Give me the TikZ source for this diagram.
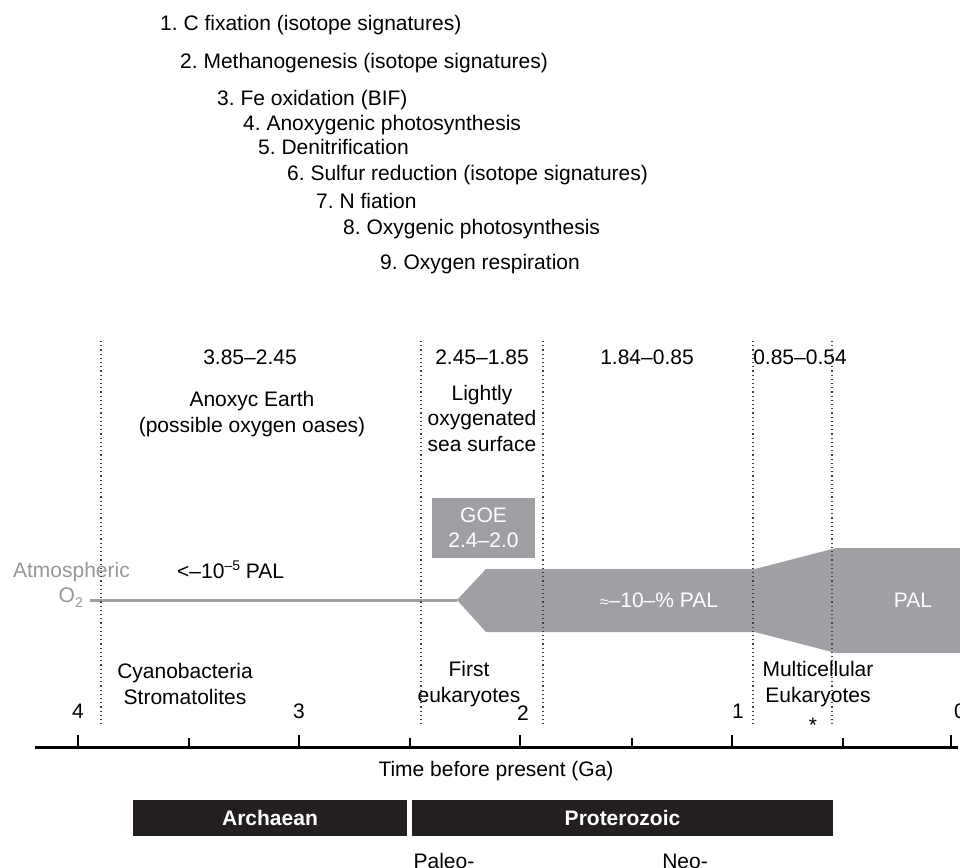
\documentclass[tikz,border=0pt]{standalone}
\usepackage{fontspec}
\setmainfont{Liberation Sans}
\usepackage{tikz}
\usetikzlibrary{positioning}
\definecolor{o2gray}{RGB}{159,160,163}
\definecolor{labelgray}{RGB}{150,150,152}
\definecolor{eonblack}{RGB}{35,31,32}
\newcommand{\bodyfont}{\fontsize{21}{25.5}\selectfont}
\newcommand{\smallup}[1]{\raisebox{0.75ex}{\fontsize{14}{14}\selectfont #1}}
\newcommand{\smalldown}[1]{\raisebox{-0.45ex}{\fontsize{14}{14}\selectfont #1}}
\frenchspacing
\tikzset{
 txt/.style={
 inner sep=0pt,
 align=center,
 font=\bodyfont
 },
 listitem/.style={txt, anchor=west},
 goebox/.style={
 rectangle,
 fill=o2gray,
 text=white,
 inner sep=0pt,
 minimum width=103pt,
 minimum height=60pt,
 align=center,
 font=\bodyfont
 },
 eonbar/.style={
 rectangle,
 fill=eonblack,
 text=white,
 inner sep=0pt,
 minimum height=36pt,
 font=\bodyfont\bfseries
 },
 boundary/.style={dash pattern=on 1.2pt off 3pt, line width=1.1pt, draw=black!75},
 o2line/.style={line width=3pt, draw=o2gray},
 axisline/.style={line width=3pt, draw=black}
}

\begin{document}
\begin{tikzpicture}[x=1pt, y=-1pt]
	\useasboundingbox (0,0) rectangle (960,867);

	% metabolisms
	\node[listitem] (m1) at (160,25) {1. C fixation (isotope signatures)};
	\node[listitem] (m2) at (180,63) {2. Methanogenesis (isotope signatures)};
	\node[listitem] (m3) at (217,100) {3. Fe oxidation (BIF)};
	\node[listitem] (m4) at (243,125) {4. Anoxygenic photosynthesis};
	\node[listitem] (m5) at (258,147) {5. Denitrification};
	\node[listitem] (m6) at (287,175) {6. Sulfur reduction (isotope signatures)};
	\node[listitem] (m7) at (316,201) {7. N fiation};
	\node[listitem] (m8) at (343,229) {8. Oxygenic photosynthesis};
	\node[listitem] (m9) at (380,264) {9. Oxygen respiration};

	% periods
	\node[txt] (p1) at (250,357) {3.85–2.45};
	\node[txt] (p2) at (482,357) {2.45–1.85};
	\node[txt] (p3) at (647,357) {1.84–0.85};
	\node[txt] (p4) at (800,357) {0.85–0.54};

	\node[txt] (anoxic) at (252,414) {Anoxyc Earth\\(possible oxygen oases)};
	\node[txt] (lightly) at (482,418) {Lightly\\oxygenated\\sea surface};

	\node[goebox] (goe) at (483.5,528) {GOE\\2.4–2.0};

	% atmospheric oxygen
	\node[txt, anchor=east, text=labelgray] (atmo) at (130,572) {Atmospheric};
	\node[txt, anchor=east, text=labelgray] (otwo) at (83,598) {O\smalldown{2}};
	\node[txt, anchor=west] (low) at (177,570) {<–10\smallup{–5} PAL};

	\coordinate (o2start) at (90,600);
	\coordinate (o2tip) at (457,600);
	\fill[o2gray] (o2tip) -- (486,569) -- (755,569) -- (836,548) -- (960,548)
		-- (960,653) -- (836,653) -- (755,632) -- (486,632) -- cycle;
	\draw[o2line] (o2start) -- (o2tip);

	\node[txt, text=white] (tenpct) at (659,600) {{\fontsize{16}{16}\selectfont ≈}–10–\% PAL};
	\node[txt, text=white] (pal) at (913,600) {PAL};

	% boundaries
	\foreach \x in {101,421,543,753,832}
		\draw[boundary] (\x,341) -- (\x,725);

	% life
	\node[txt] (cyano) at (185,684) {Cyanobacteria\\Stromatolites};
	\node[txt] (euk) at (469,684) {First\\eukaryotes};
	\node[txt] (multi) at (818,684) {Multicellular\\Eukaryotes};
	\node[txt] (star) at (813,725) {*};

	% time axis
	\coordinate (axisL) at (35,747);
	\coordinate (axisR) at (958,747);
	\draw[axisline] (axisL) -- (axisR);
	\foreach \x/\h in {78/13,189/10,299/13,410/10,520/13,632/10,732/13,843/10,951/13}
		\draw[axisline, line width=2.6pt] (\x,748) -- (\x,748-\h);
	\node[txt] (t4) at (78,711) {4};
	\node[txt] (t3) at (299,711) {3};
	\node[txt] (t2) at (523,713) {2};
	\node[txt] (t1) at (738,711) {1};
	\node[txt] (t0) at (960,711) {0};
	\node[txt] (xlabel) at (496,771) {Time before present (Ga)};

	% eons
	\node[eonbar, minimum width=274pt] (archaean) at (270,818) {Archaean};
	\node[eonbar, minimum width=421pt] (proterozoic) at (622.5,818) {Proterozoic};
	\node[txt] (paleo) at (444,861) {Paleo-};
	\node[txt] (neo) at (685,861) {Neo-};
\end{tikzpicture}
\end{document}
